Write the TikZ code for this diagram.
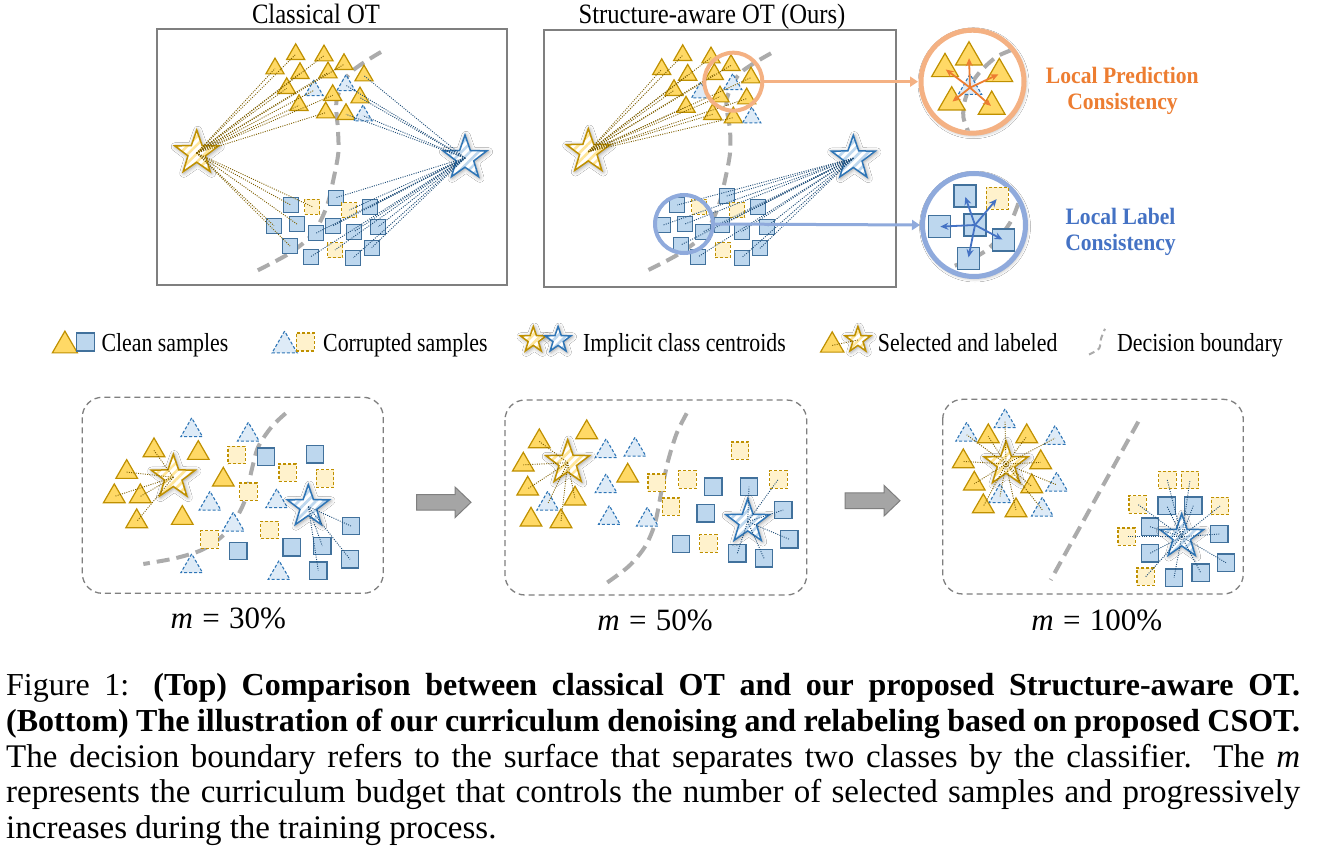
\documentclass[tikz,border=0pt]{standalone}
\usepackage{fontspec}
\setmainfont{Liberation Serif}
\newfontfamily\figfont{Liberation Serif}[FakeStretch=0.88]
\newfontfamily\legfont{Liberation Serif}[FakeStretch=0.84]
\newfontfamily\locfont{Liberation Serif}[FakeStretch=0.92]
\usetikzlibrary{shapes.geometric,patterns.meta,shadows.blur,arrows.meta}

\definecolor{goldD}{HTML}{BF9000}
\definecolor{goldF}{HTML}{FFD966}
\definecolor{goldL}{HTML}{FFF2CC}
\definecolor{goldS}{HTML}{FFE699}
\definecolor{blueD}{HTML}{2E75B6}
\definecolor{blueF}{HTML}{BDD7EE}
\definecolor{blueL}{HTML}{DEEBF7}
\definecolor{blueS}{HTML}{41719C}
\definecolor{blueT}{HTML}{BDD7EE}
\definecolor{lineG}{HTML}{7F6000}
\definecolor{lineB}{HTML}{1F4E79}
\definecolor{bndC}{HTML}{ABABAB}
\definecolor{frameG}{HTML}{7F7F7F}
\definecolor{ringO}{HTML}{F4B183}
\definecolor{arrO}{HTML}{ED7D31}
\definecolor{ringB}{HTML}{8FAADC}
\definecolor{arrB}{HTML}{4472C4}
\definecolor{garrF}{HTML}{A5A5A5}

\tikzset{
  gtri/.style={regular polygon,regular polygon sides=3,draw=goldD,fill=goldF,line width=1.2pt,inner sep=0pt,outer sep=0pt,minimum size=#1,yshift=-#1/8},
  btri/.style={regular polygon,regular polygon sides=3,draw=blueD,fill=blueL,line width=1.1pt,dash pattern=on 3pt off 2pt,inner sep=0pt,outer sep=0pt,minimum size=#1,yshift=-#1/8},
  bsq/.style={rectangle,draw=blueS,fill=blueF,line width=1.2pt,inner sep=0pt,outer sep=0pt,minimum size=#1},
  gsq/.style={rectangle,draw=goldD,fill=goldL,line width=1.1pt,dash pattern=on 3pt off 2pt,inner sep=0pt,outer sep=0pt,minimum size=#1},
  glow/.style={blur shadow={shadow xshift=1pt,shadow yshift=-1pt,shadow blur radius=4pt,shadow opacity=40,shadow scale=1.03}},
  gstar/.style={star,star points=5,star point ratio=2.5,minimum size=#1,inner sep=0pt,outer sep=0pt,glow,preaction={fill=white},pattern={Lines[angle=45,distance=6pt,line width=2.6pt]},pattern color=goldS,draw=goldD,line width=1.5pt},
  bstar/.style={star,star points=5,star point ratio=2.5,minimum size=#1,inner sep=0pt,outer sep=0pt,glow,preaction={fill=white},pattern={Lines[angle=45,distance=6pt,line width=2.6pt]},pattern color=blueT,draw=blueD,line width=1.5pt},
  gl/.style={draw=lineG,line width=0.9pt,dash pattern=on 1pt off 1.3pt},
  bl/.style={draw=lineB,line width=0.9pt,dash pattern=on 1pt off 1.3pt},
  bnd/.style={draw=bndC,line width=4pt,dash pattern=on 13pt off 7pt},
  tframe/.style={draw=frameG,line width=1.5pt},
  dframe/.style={draw=frameG,line width=1.3pt,dash pattern=on 6pt off 4pt,rounded corners=20pt},
  sring/.style={circle,draw=#1,line width=4pt,inner sep=0pt,outer sep=0pt,minimum size=58},
  bring/.style={circle,draw=#1,line width=5pt,fill=white,inner sep=0pt,outer sep=0pt,minimum size=103,
     blur shadow={shadow xshift=1pt,shadow yshift=-1.5pt,shadow blur radius=4pt,shadow opacity=40}},
  oarr/.style={draw=arrO,line width=1.8pt,-{Stealth[length=8pt,width=7pt]},shorten >=1pt},
  barr/.style={draw=arrB,line width=1.8pt,-{Stealth[length=8pt,width=7pt]},shorten >=1pt},
  garrow/.style={fill=garrF,draw=frameG,line width=1pt},
  ttl/.style={anchor=base,inner sep=0pt,font=\figfont\fontsize{28}{32}\selectfont},
  leg/.style={anchor=base west,inner sep=0pt,font=\legfont\fontsize{26}{30}\selectfont},
  loc/.style={anchor=base,inner sep=0pt,font=\locfont\bfseries\fontsize{23.5}{27}\selectfont},
  mlab/.style={anchor=base,inner sep=0pt,font=\fontsize{31}{34}\selectfont},
  capt/.style={anchor=base west,inner sep=0pt,font=\fontsize{32}{36}\selectfont},
  captr/.style={anchor=base west,inner sep=0pt,font=\fontsize{33}{36}\selectfont},
}

\begin{document}
\begin{tikzpicture}[x=1pt,y=-1pt]
\useasboundingbox (0,0) rectangle (1334,851);
\fill[white] (0,0) rectangle (1334,851);

% ---------------- top panels: frames and titles
\draw[tframe] (157,29) rectangle (507,285);
\draw[tframe] (544,30) rectangle (896,287);
\node[ttl] (ttlA) at (316,24) {Classical OT};
\node[ttl] (ttlB) at (712,24) {Structure-aware OT (Ours)};

% boundaries
\draw[bnd] plot[smooth] coordinates {(381,52) (350,73) (336.7,100) (338,130) (338.3,153) (333.3,180) (326.7,206.7) (313.3,233.3) (290,253) (255,271.7)};
\draw[bnd] plot[smooth] coordinates {(771,53.3) (740,73.3) (726.7,100) (730,130) (730,153.3) (725,180) (718.3,206.7) (705,233.3) (680,253.3) (645,271.7)};

% ---------------- panel A (classical OT)
\foreach \n/\x/\y in {a1/295.7/51.7,a2/324/53,a3/275/66,a4/300/70.7,a5/344/61.7,a6/328/70,a7/364/73,a8/286.7/85.7,a9/332.7/92.7,a10/360/95,a11/299/102.7,a12/325.7/110,a13/346/111.7}
  \node[gtri=21] (\n) at (\x,\y) {};
\foreach \n/\x/\y in {ad1/314/87.7,ad2/346/82.7,ad3/363/113}
  \node[btri=21] (\n) at (\x,\y) {};
\foreach \n/\x/\y in {as1/290.7/205,as2/335.7/197.7,as3/370/207.3,as4/274/225.7,as5/297.3/224.3,as6/333.3/225.7,as7/315.7/233.3,as8/354/231.7,as9/378.3/226.7,as10/290/246,as11/310.7/256.7,as12/353.3/257.7,as13/371.7/247.7}
  \node[bsq=15] (\n) at (\x,\y) {};
\foreach \n/\x/\y in {ac1/312.3/206.7,ac2/349.3/210,ac3/335/250}
  \node[gsq=15] (\n) at (\x,\y) {};
\node[gstar=46] (agS) at (196.7,153) {};
\node[bstar=46] (abS) at (465,158) {};
\foreach \n in {a1,a2,a3,a4,a5,a6,a8,a9,a11,a12,ad1,as1,as4,as5,as10,ac1}
  \draw[gl] (agS.center) -- (\n.center);
\foreach \n in {a7,a10,a13,ad2,ad3,as2,as3,as6,as7,as8,as9,as11,as12,as13,ac2,ac3}
  \draw[bl] (abS.center) -- (\n.center);

% ---------------- panel B (structure-aware OT)
\foreach \n/\x/\y in {b1/682.7/52.7,b2/711/55,b3/661.7/66.7,b4/687.7/72.3,b5/731/62.7,b6/714.3/71.7,b7/751/75,b8/674/87.7,b9/720/94,b10/746.7/96,b11/686/104.3,b12/712.7/111.7,b13/733.3/115}
  \node[gtri=21] (\n) at (\x,\y) {};
\foreach \n/\x/\y in {bd1/700.7/90,bd2/732.7/81.7,bd3/751.7/115}
  \node[btri=21] (\n) at (\x,\y) {};
\foreach \n/\x/\y in {bs1/726.7/196,bs2/758.3/206.7,bs3/677.3/205,bs4/663.3/225,bs5/685/224,bs6/703.3/231.7,bs7/721.7/225,bs8/741.7/231.7,bs9/766.7/226.7,bs10/680.7/245,bs11/698.3/256.7,bs12/741.7/257.7,bs13/760/248.3}
  \node[bsq=15] (\n) at (\x,\y) {};
\foreach \n/\x/\y in {bc1/699.3/206.7,bc2/737.3/210,bc3/722.7/250}
  \node[gsq=15] (\n) at (\x,\y) {};
\node[gstar=46] (bgS) at (588.3,151.7) {};
\node[bstar=46] (bbS) at (853.3,158.3) {};
\foreach \n in {b1,b2,b3,b4,b5,b6,b7,b8,b9,b10,b11,b12,b13}
  \draw[gl] (bgS.center) -- (\n.center);
\foreach \n in {bs1,bs2,bs3,bs4,bs5,bs6,bs7,bs8,bs9,bs10,bs11,bs12,bs13}
  \draw[bl] (bbS.center) -- (\n.center);

% small rings
\node[sring=ringO] (boC) at (733.3,81.7) {};
\node[sring=ringB] (boB) at (684,224) {};

% ---------------- big rings
\draw[draw=ringO,line width=3pt,-{Triangle[length=8pt,width=10pt]}] (boC.east) -- (918,81.7);
\draw[draw=ringB,line width=3pt,-{Triangle[length=8pt,width=10pt]}] (boB.east) -- (920,225);
\node[bring=ringO] (OC) at (972.5,81.7) {};
\node[bring=ringB] (BC) at (974,225) {};
\begin{scope}
  \clip (OC.center) circle (49);
  \draw[bnd] plot[smooth] coordinates {(1011.7,50) (996.7,56.7) (981.7,70) (971.7,83.3) (965,100) (963.3,116.7) (968.3,131.7)};
\end{scope}
\begin{scope}
  \clip (BC.center) circle (49);
  \draw[bnd] plot[smooth] coordinates {(1018.3,203.3) (1011.7,220) (1000,236.7) (986.7,250) (970,260) (950,267.3)};
\end{scope}
\foreach \n/\x/\y in {o1/969/53.3,o2/945/65,o3/999.3/70,o4/951.7/98.3,o5/991.7/102.7}
  \node[gtri=31] (\n) at (\x,\y) {};
\node[btri=27] (od) at (970,84.3) {};
\foreach \n in {o1,o2,o3,o4,o5}
  \draw[oarr] (od.center) -- (\n.center);
\foreach \n/\x/\y in {k1/965/196,k2/939.3/226.7,k3/975/225,k4/1003.3/240,k5/968.3/258.3}
  \node[bsq=22] (\n) at (\x,\y) {};
\node[gsq=22] (kc) at (997.3,198.3) {};
\foreach \n in {k1,k2,k4,k5,kc}
  \draw[barr] (k3.center) -- (\n.center);

\node[loc,text=arrO] (lp1) at (1122.3,83.5) {Local Prediction};
\node[loc,text=arrO] (lp2) at (1122.5,109.5) {Consistency};
\node[loc,text=arrB] (ll1) at (1120.5,224) {Local Label};
\node[loc,text=arrB] (ll2) at (1120.5,250) {Consistency};

% ---------------- legend
\node[gtri=29] (l1) at (64.9,342) {};
\node[bsq=18] (l2) at (85.6,342) {};
\node[leg] (lt1) at (101.3,351) {Clean samples};
\node[btri=29] (l3) at (284.6,342) {};
\node[gsq=18] (l4) at (305.3,342) {};
\node[leg] (lt2) at (323,351) {Corrupted samples};
\node[gstar=27] (l5) at (533.3,340) {};
\node[bstar=27] (l6) at (558.1,340) {};
\node[leg] (lt3) at (583,351) {Implicit class centroids};
\node[gtri=27] (l7) at (832.2,342) {};
\node[gstar=27] (l8) at (857.9,340) {};
\draw[gl] (l7.center) -- (l8.center);
\node[leg] (lt4) at (877.7,351) {Selected and labeled};
\draw[draw=bndC,line width=2pt,dash pattern=on 6pt off 4pt] plot[smooth] coordinates {(1089,354.5) (1099,348.6) (1101,338.7) (1105,328.8)};
\node[leg] (lt5) at (1117,351) {Decision boundary};

% ---------------- bottom panels
\draw[dframe] (82.3,397.3) rectangle (383.3,593.3);
\draw[dframe] (505,400) rectangle (806.7,595);
\draw[dframe] (942.7,399.3) rectangle (1243.3,594);

\draw[bnd] plot[smooth] coordinates {(285.7,413.3) (271.7,426.7) (258.3,446.7) (251.7,470) (245,500) (235,520) (221.7,536.7) (201.7,550) (175,558.3) (143.3,564)};
\draw[bnd] plot[smooth] coordinates {(686.7,413.3) (676.7,433.3) (668.3,460) (661.7,490) (655,523.3) (645,546.7) (628.3,566.7) (602.3,586)};
\draw[bnd] (1138.3,421.7) -- (1050.7,580);

% panel m = 30%
\foreach \n/\x/\y in {p1/154/447.3,p2/126.7/469,p3/198.3/450,p4/114.3/493.3,p5/140.3/493.3,p6/223.3/476.7,p7/136.7/518.3,p8/182.3/515}
  \node[gtri=25] (\n) at (\x,\y) {};
\foreach \n/\x/\y in {pd1/191.7/427.3,pd2/248.3/431.7,pd3/210/500.7,pd4/233.3/521.7,pd5/276.7/498.3,pd6/191.7/563.3,pd7/279/570}
  \node[btri=25] (\n) at (\x,\y) {};
\foreach \n/\x/\y in {pc1/236.7/455,pc2/287.7/472.7,pc3/325/478.3,pc4/248.3/491.7,pc5/269.3/530,pc6/209.3/539.3}
  \node[gsq=17.5] (\n) at (\x,\y) {};
\foreach \n/\x/\y in {ps1/266/456.7,ps2/315/454.3,ps3/351/526,ps4/238.3/551,ps5/291.7/547.3,ps6/322.3/546,ps7/350/559.3,ps8/318.3/570.7}
  \node[bsq=17.5] (\n) at (\x,\y) {};
\node[gstar=46] (pgS) at (173.3,477.3) {};
\node[bstar=44] (pbS) at (308.3,506.7) {};
\foreach \n in {p1,p2,p4,p5,p7}
  \draw[gl] (pgS.center) -- (\n.center);
\foreach \n in {ps3,ps6,ps7,ps8}
  \draw[bl] (pbS.center) -- (\n.center);

% panel m = 50%
\foreach \n/\x/\y in {m1/586.7/429.3,m2/539.3/438.3,m3/523.3/461.7,m4/627.7/472.7,m5/527.7/485.7,m6/575/495.7,m7/531/516.7,m8/561/518.3}
  \node[gtri=25] (\n) at (\x,\y) {};
\foreach \n/\x/\y in {md1/606/448.3,md2/635/446.7,md3/606/483.3,md4/547.7/500.7,md5/609.3/515,md6/647.3/516.7}
  \node[btri=25] (\n) at (\x,\y) {};
\foreach \n/\x/\y in {mc1/740/450.7,mc2/656.7/482.7,mc3/687.3/479.3,mc4/778.3/479.3,mc5/671/506.7,mc6/708.3/543.3}
  \node[gsq=17.5] (\n) at (\x,\y) {};
\foreach \n/\x/\y in {ms1/713.3/486.7,ms2/749/486.7,ms3/705.7/513.3,ms4/783.3/510,ms5/681/544,ms6/789.3/539.3,ms7/737.3/553.3,ms8/764/558.3}
  \node[bsq=17.5] (\n) at (\x,\y) {};
\node[gstar=46] (mgS) at (567.7,462.7) {};
\node[bstar=46] (mbS) at (747.7,521.7) {};
\foreach \n in {m2,m3,m5,m6,m8,md4}
  \draw[gl] (mgS.center) -- (\n.center);
\foreach \n in {ms2,mc4,ms4,ms6,ms8,ms7}
  \draw[bl] (mbS.center) -- (\n.center);

% panel m = 100%
\foreach \n/\x/\y in {r1/988.3/433.3,r2/1026.7/433.3,r3/963.3/458.3,r4/1040.7/459.3,r5/974.3/480.7,r6/1031.7/483.3,r7/983.3/503.3,r8/1016/507.3}
  \node[gtri=25] (\n) at (\x,\y) {};
\foreach \n/\x/\y in {rd1/966.7/431.7,rd2/1005/418.3,rd3/1055/435,rd4/1056.7/481.7,rd5/1000/493.3,rd6/1042.3/506.7}
  \node[btri=25] (\n) at (\x,\y) {};
\foreach \n/\x/\y in {rc1/1167.3/480,rc2/1190/480,rc3/1137.7/504.3,rc4/1220/506,rc5/1126.7/536.7,rc6/1145.7/576.7}
  \node[gsq=17.5] (\n) at (\x,\y) {};
\foreach \n/\x/\y in {rs1/1166.7/505.7,rs2/1193.3/505.7,rs3/1150/526.7,rs4/1219.3/534,rs5/1150/553.3,rs6/1226/562.7,rs7/1174/577.7,rs8/1200.7/572.7}
  \node[bsq=17.5] (\n) at (\x,\y) {};
\node[gstar=46] (rgS) at (1006,464) {};
\node[bstar=46] (rbS) at (1181.7,536.7) {};
\foreach \n in {r1,r2,r3,r4,r5,r6,r7,r8,rd1,rd2,rd3,rd4,rd5,rd6}
  \draw[gl] (rgS.center) -- (\n.center);
\foreach \n in {rs1,rs2,rs3,rs4,rs5,rs6,rs7,rs8,rc1,rc2,rc3,rc4,rc5,rc6}
  \draw[bl] (rbS.center) -- (\n.center);

% labels
\node[mlab] (mA) at (228.3,628) {\textit{m}\hspace{0.3em}=\hspace{0.3em}30\%};
\node[mlab] (mB) at (655,630) {\textit{m}\hspace{0.3em}=\hspace{0.3em}50\%};
\node[mlab] (mC) at (1096.7,630) {\textit{m}\hspace{0.3em}=\hspace{0.3em}100\%};

% grey block arrows
\draw[garrow] (416.7,494.5) -- (455,494.5) -- (455,487) -- (471,502.3) -- (455,517.6) -- (455,510.1) -- (416.7,510.1) -- cycle;
\draw[garrow] (845,492.9) -- (884,492.9) -- (884,485.4) -- (900,500.7) -- (884,516) -- (884,508.5) -- (845,508.5) -- cycle;

% ---------------- caption
\node[capt] (cap1) at (6,695) {\makebox[1294pt][s]{Figure 1: \textbf{(Top) Comparison between classical OT and our proposed Structure-aware OT.}}};
\node[capt] (cap2) at (6,731) {\makebox[1294pt][s]{\textbf{(Bottom) The illustration of our curriculum denoising and relabeling based on proposed CSOT.}}};
\node[captr] (cap3) at (6,767) {\makebox[1294pt][s]{The decision boundary refers to the surface that separates two classes by the classifier. The \textit{m}}};
\node[captr] (cap4) at (6,802) {\makebox[1294pt][s]{represents the curriculum budget that controls the number of selected samples and progressively}};
\node[captr] (cap5) at (6,838) {increases during the training process.};
\end{tikzpicture}
\end{document}
